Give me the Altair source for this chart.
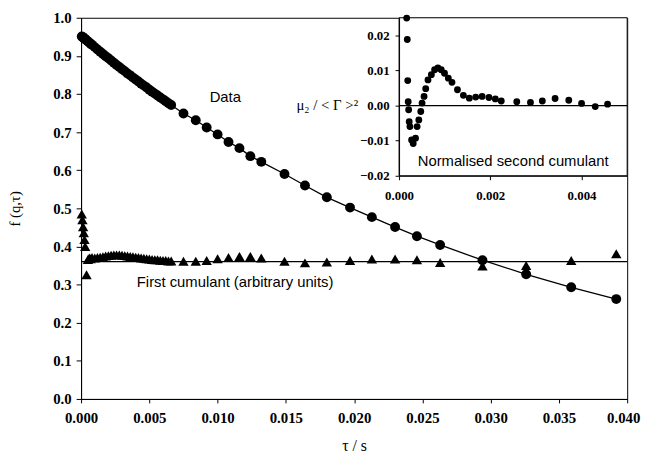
import altair as alt
import pandas as pd

# ---------------- data ----------------
tau_s = [0.00005, 0.0001, 0.00015, 0.0002, 0.00025, 0.0003, 0.0004, 0.0005, 0.0006, 0.0007, 0.0008,
         0.0010, 0.0012, 0.0014, 0.0016, 0.0018, 0.0020, 0.0022, 0.0024, 0.0026, 0.0028,
         0.0030, 0.0032, 0.0034, 0.0036, 0.0038, 0.0040, 0.0042, 0.0044, 0.0046, 0.0048,
         0.0050, 0.0052, 0.0054, 0.0056, 0.0058, 0.0060, 0.0062, 0.0064, 0.0066,
         0.0075, 0.0084, 0.0092, 0.0100, 0.0108, 0.0116, 0.0124, 0.0132,
         0.0149, 0.0164, 0.0180, 0.0197, 0.0213, 0.0230, 0.0246, 0.0263,
         0.0294, 0.0326, 0.0359, 0.0392]

f_data = [0.951, 0.950, 0.948, 0.947, 0.945, 0.944, 0.941, 0.938, 0.935, 0.932, 0.929,
          0.923, 0.917, 0.911, 0.905, 0.899, 0.894, 0.888, 0.882, 0.876, 0.871,
          0.865, 0.860, 0.854, 0.849, 0.843, 0.838, 0.833, 0.827, 0.822, 0.817,
          0.811, 0.806, 0.801, 0.796, 0.791, 0.786, 0.781, 0.776, 0.771,
          0.749, 0.731, 0.712, 0.694, 0.674, 0.658, 0.637, 0.622,
          0.590, 0.560, 0.529, 0.502, 0.477, 0.451, 0.427, 0.404,
          0.364, 0.327, 0.293, 0.262]

first_cumulant = [0.485, 0.470, 0.452, 0.436, 0.418, 0.400, 0.326, 0.366, 0.370, 0.368, 0.371,
                  0.370, 0.371, 0.372, 0.373, 0.375, 0.376, 0.377, 0.378, 0.378, 0.378,
                  0.377, 0.376, 0.375, 0.374, 0.373, 0.372, 0.371, 0.370, 0.369, 0.368,
                  0.367, 0.366, 0.365, 0.365, 0.364, 0.363, 0.363, 0.362, 0.362,
                  0.361, 0.361, 0.363, 0.368, 0.371, 0.374, 0.374, 0.370,
                  0.361, 0.357, 0.359, 0.363, 0.367, 0.367, 0.365, 0.358,
                  0.349, 0.350, 0.363, 0.381]

first_cumulant_level = [0.36]

tau_inset = [0.000167, 0.000180, 0.000190, 0.000200, 0.000210, 0.000222, 0.000238, 0.000275,
             0.000310, 0.000361, 0.000396, 0.000433, 0.000476, 0.000504, 0.000548, 0.000584,
             0.000634, 0.000708, 0.000779, 0.000851, 0.000924, 0.000996, 0.00108, 0.00116,
             0.00128, 0.00141, 0.00154, 0.00168, 0.00182, 0.00197, 0.00211, 0.00224,
             0.00258, 0.00288, 0.00314, 0.00342, 0.00372, 0.00400, 0.00430, 0.00457]

mu2_norm = [0.0249, 0.0188, 0.0071, 0.0011, -0.0012, -0.0046, -0.0060, -0.0098,
            -0.0108, -0.0093, -0.0060, -0.0041, -0.0017, 0.0007, 0.0026, 0.0048,
            0.0073, 0.0088, 0.0102, 0.0107, 0.0102, 0.0092, 0.0078, 0.0066,
            0.0045, 0.0029, 0.0021, 0.0024, 0.0026, 0.0023, 0.0019, 0.0013,
            0.0011, 0.0009, 0.0013, 0.0020, 0.0015, 0.0006, -0.0003, 0.0004]

x_ticks = [0.000, 0.005, 0.010, 0.015, 0.020, 0.025, 0.030, 0.035, 0.040]
y_ticks = [0.0, 0.1, 0.2, 0.3, 0.4, 0.5, 0.6, 0.7, 0.8, 0.9, 1.0]
inset_x_ticks = [0.000, 0.002, 0.004]
inset_y_ticks = [-0.02, -0.01, 0.00, 0.01, 0.02]

main_notes = pd.DataFrame({"tau": [0.01056, 0.01128], "f": [0.793, 0.306],
                           "label": ["Data", "First cumulant (arbitrary units)"]})
inset_notes = pd.DataFrame({"tau": [0.0025], "mu2": [-0.0157], "label": ["Normalised second cumulant"]})
inset_box = pd.DataFrame({"x0": [0.0], "x1": [0.005], "y0": [-0.02], "y1": [0.025], "zero": [0.0]})

main_df = pd.DataFrame({"tau": tau_s, "f": f_data, "g1": first_cumulant})
level_df = pd.DataFrame({"f": first_cumulant_level})
inset_df = pd.DataFrame({"tau": tau_inset, "mu2": mu2_norm})

# ---------------- styling ----------------
W, H = 553, 386
SERIF = "Liberation Serif"
SANS = "Liberation Sans"

x_axis = alt.Axis(values=x_ticks, format=".3f", title="τ / s", grid=False,
                  labelFont=SERIF, labelFontSize=15, labelFontWeight="bold", labelColor="black",
                  labelOffset={"condition": {"test": "datum.value >= 0.0399", "value": -4}, "value": 0},
                  titleFont=SERIF, titleFontSize=16, titleFontWeight="normal", titleColor="black",
                  tickSize=4, labelPadding=8, titlePadding=12, domainColor="black", tickColor="black",
                  labelFlush=False)
y_axis = alt.Axis(values=y_ticks, format=".1f", title="f (q,τ)", grid=False,
                  labelFont=SERIF, labelFontSize=15, labelFontWeight="bold", labelColor="black",
                  titleFont=SERIF, titleFontSize=15, titleFontWeight="normal", titleColor="black",
                  titleX=-59, titleY=193, titleBaseline="bottom",
                  tickSize=5, labelPadding=5, domainColor="black", tickColor="black")

xs = alt.Scale(domain=[0, 0.04], nice=False, zero=False)
ys = alt.Scale(domain=[0, 1], nice=False)

X = alt.X("tau:Q", scale=xs, axis=x_axis)

line = alt.Chart(main_df).mark_line(color="black", strokeWidth=1.3).encode(
    x=X, y=alt.Y("f:Q", scale=ys, axis=y_axis))
circles = alt.Chart(main_df).mark_point(shape="circle", filled=True, color="black", size=100, opacity=1).encode(
    x=X, y=alt.Y("f:Q", scale=ys, axis=y_axis))
level = alt.Chart(level_df).mark_rule(color="black", strokeWidth=1.3).encode(
    y=alt.Y("f:Q", scale=ys, axis=y_axis))
triangles = alt.Chart(main_df).mark_point(shape="triangle-up", filled=True, color="black", size=110, opacity=1).encode(
    x=X, y=alt.Y("g1:Q", scale=ys, axis=y_axis))
notes = alt.Chart(main_notes).mark_text(font=SANS, fontSize=15, color="black", baseline="middle", align="center").encode(
    x=X, y=alt.Y("f:Q", scale=ys, axis=y_axis), text="label:N")

main_layer = alt.layer(line, level, triangles, circles, notes)

# ---------------- inset ----------------
ixs = alt.Scale(domain=[0, 0.005], range=[322, W], nice=False, zero=False)
iys = alt.Scale(domain=[-0.02, 0.025], range=[160, 0], nice=False, zero=False)

ix_axis = alt.Axis(orient="bottom", offset=-(H - 160), values=inset_x_ticks, format=".3f", title=None,
                   grid=False, labelFont=SERIF, labelFontSize=13, labelFontWeight="bold", labelColor="black",
                   tickSize=4, labelPadding=10, domainColor="black", tickColor="black", zindex=2,
                   labelFlush=False)
iy_axis = alt.Axis(orient="left", offset=-322, values=inset_y_ticks, format=".2f",
                   title="μ₂ / < Γ >²", titleAngle=0, titleAlign="right", titleBaseline="middle",
                   titleX=-42, titleY=88, titleFont=SERIF, titleFontSize=15, titleFontWeight="normal",
                   titleColor="black",
                   grid=False, labelFont=SERIF, labelFontSize=13, labelFontWeight="bold", labelColor="black",
                   tickSize=4, labelPadding=6, domainColor="black", tickColor="black", zindex=2)

IX = alt.X("tau:Q", scale=ixs, axis=ix_axis)

box = alt.Chart(inset_box).mark_rect(fill="white", stroke="black", strokeWidth=1).encode(
    x=alt.X("x0:Q", scale=ixs, axis=ix_axis), x2="x1:Q",
    y=alt.Y("y0:Q", scale=iys, axis=iy_axis), y2="y1:Q")
zero_line = alt.Chart(inset_box).mark_rule(color="black", strokeWidth=1.2).encode(
    x=alt.X("x0:Q", scale=ixs, axis=ix_axis), x2="x1:Q",
    y=alt.Y("zero:Q", scale=iys, axis=iy_axis))
inset_pts = alt.Chart(inset_df).mark_point(shape="circle", filled=True, color="black", size=48, opacity=1).encode(
    x=IX, y=alt.Y("mu2:Q", scale=iys, axis=iy_axis))
inset_text = alt.Chart(inset_notes).mark_text(font=SANS, fontSize=15, color="black", baseline="middle", align="center").encode(
    x=IX, y=alt.Y("mu2:Q", scale=iys, axis=iy_axis), text="label:N")

inset_layer = alt.layer(box, zero_line, inset_pts, inset_text)

chart = alt.layer(main_layer, inset_layer).resolve_scale(
    x="independent", y="independent"
).properties(
    width=W, height=H,
    padding={"left": 74, "top": 7, "right": 15, "bottom": 65},
    autosize=alt.AutoSizeParams(type="none"),
    background="white",
).configure_view(stroke="black", strokeWidth=1)

chart.save("out.html", embed_options={"renderer": "svg", "actions": False})
